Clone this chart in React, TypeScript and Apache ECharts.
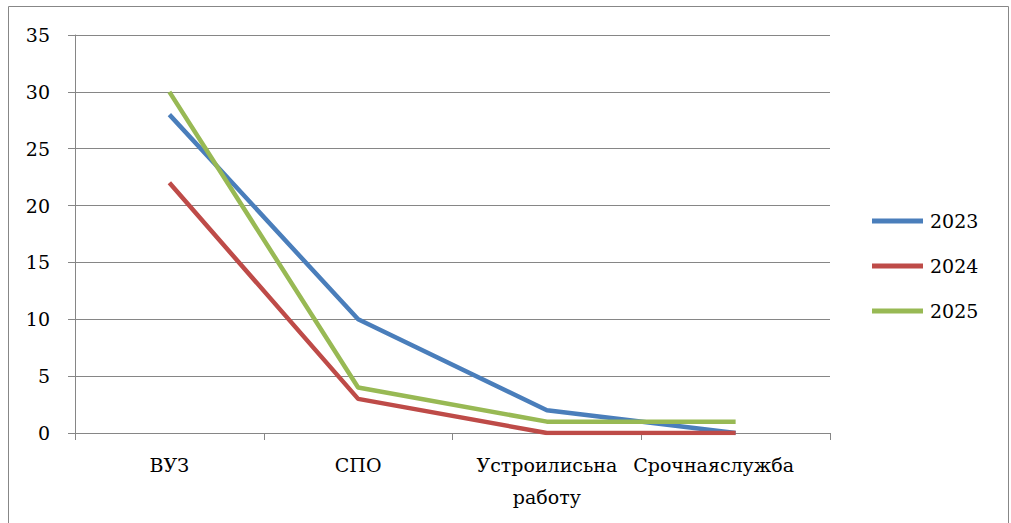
import React, { useEffect, useRef } from "react";
import * as echarts from "echarts";

const categories = ["ВУЗ", "СПО", "Устроились на работу", "Срочная служба"];
const labelTexts = ["ВУЗ", "СПО", "Устроилисьна\nработу", "Срочнаяслужба"];
const s2023 = [28, 10, 2, 0];
const s2024 = [22, 3, 0, 0];
const s2025 = [30, 4, 1, 1];
const seriesNames = ["2023", "2024", "2025"];
const colors = ["#4a7ebb", "#be4b48", "#98b954"];

export default function App() {
  const ref = useRef<HTMLDivElement>(null);
  useEffect(() => {
    const chart = echarts.init(ref.current!, null, { renderer: "svg" });
    const font = "DejaVu Serif";
    const data = [s2023, s2024, s2025];
    chart.setOption({
      animation: false,
      backgroundColor: "#ffffff",
      textStyle: { fontFamily: font, fontSize: 20 },
      graphic: [
        {
          type: "rect",
          shape: { x: 8.5, y: 6.5, width: 1000, height: 530 },
          style: { fill: "none", stroke: "#878787", lineWidth: 1 },
          silent: true,
        },
      ],
      grid: { left: 75, right: 181, top: 35, bottom: 90, containLabel: false },
      legend: {
        orient: "vertical",
        left: 872,
        top: 210,
        padding: 0,
        icon: "rect",
        itemWidth: 51,
        itemHeight: 5,
        itemGap: 23,
        data: seriesNames,
        textStyle: { fontFamily: font, fontSize: 19, color: "#000", lineHeight: 22, padding: [0, 0, 0, 2] },
      },
      xAxis: {
        type: "category",
        data: categories,
        boundaryGap: true,
        axisLine: { lineStyle: { color: "#868686", width: 1 } },
        axisTick: { show: true, length: 7, alignWithLabel: false, lineStyle: { color: "#868686" } },
        axisLabel: {
          interval: 0,
          margin: 16,
          color: "#000",
          fontFamily: font,
          fontSize: 19,
          lineHeight: 32,
          formatter: (_v: string, i: number) =>
            i === 3 ? "{s|" + labelTexts[i] + "}" : labelTexts[i],
          rich: {
            s: { fontFamily: font, fontSize: 19, color: "#000", lineHeight: 32, padding: [0, 44, 0, 0] },
          },
        },
        splitLine: { show: false },
      },
      yAxis: {
        type: "value",
        min: 0,
        max: 35,
        interval: 5,
        axisLine: { show: true, lineStyle: { color: "#868686", width: 1 } },
        axisTick: { show: true, length: 7, lineStyle: { color: "#868686" } },
        axisLabel: { color: "#000", fontFamily: font, fontSize: 19, margin: 25 },
        splitLine: { show: true, lineStyle: { color: "#868686", width: 1 } },
      },
      series: seriesNames.map((n, i) => ({
        name: n,
        type: "line",
        data: data[i],
        symbol: "none",
        color: colors[i],
        lineStyle: { width: 4.5, color: colors[i] },
      })),
    });
    return () => chart.dispose();
  }, []);
  return (
    <div
      ref={ref}
      style={{ position: "fixed", left: 0, top: 0, width: 1011, height: 523 }}
    />
  );
}
